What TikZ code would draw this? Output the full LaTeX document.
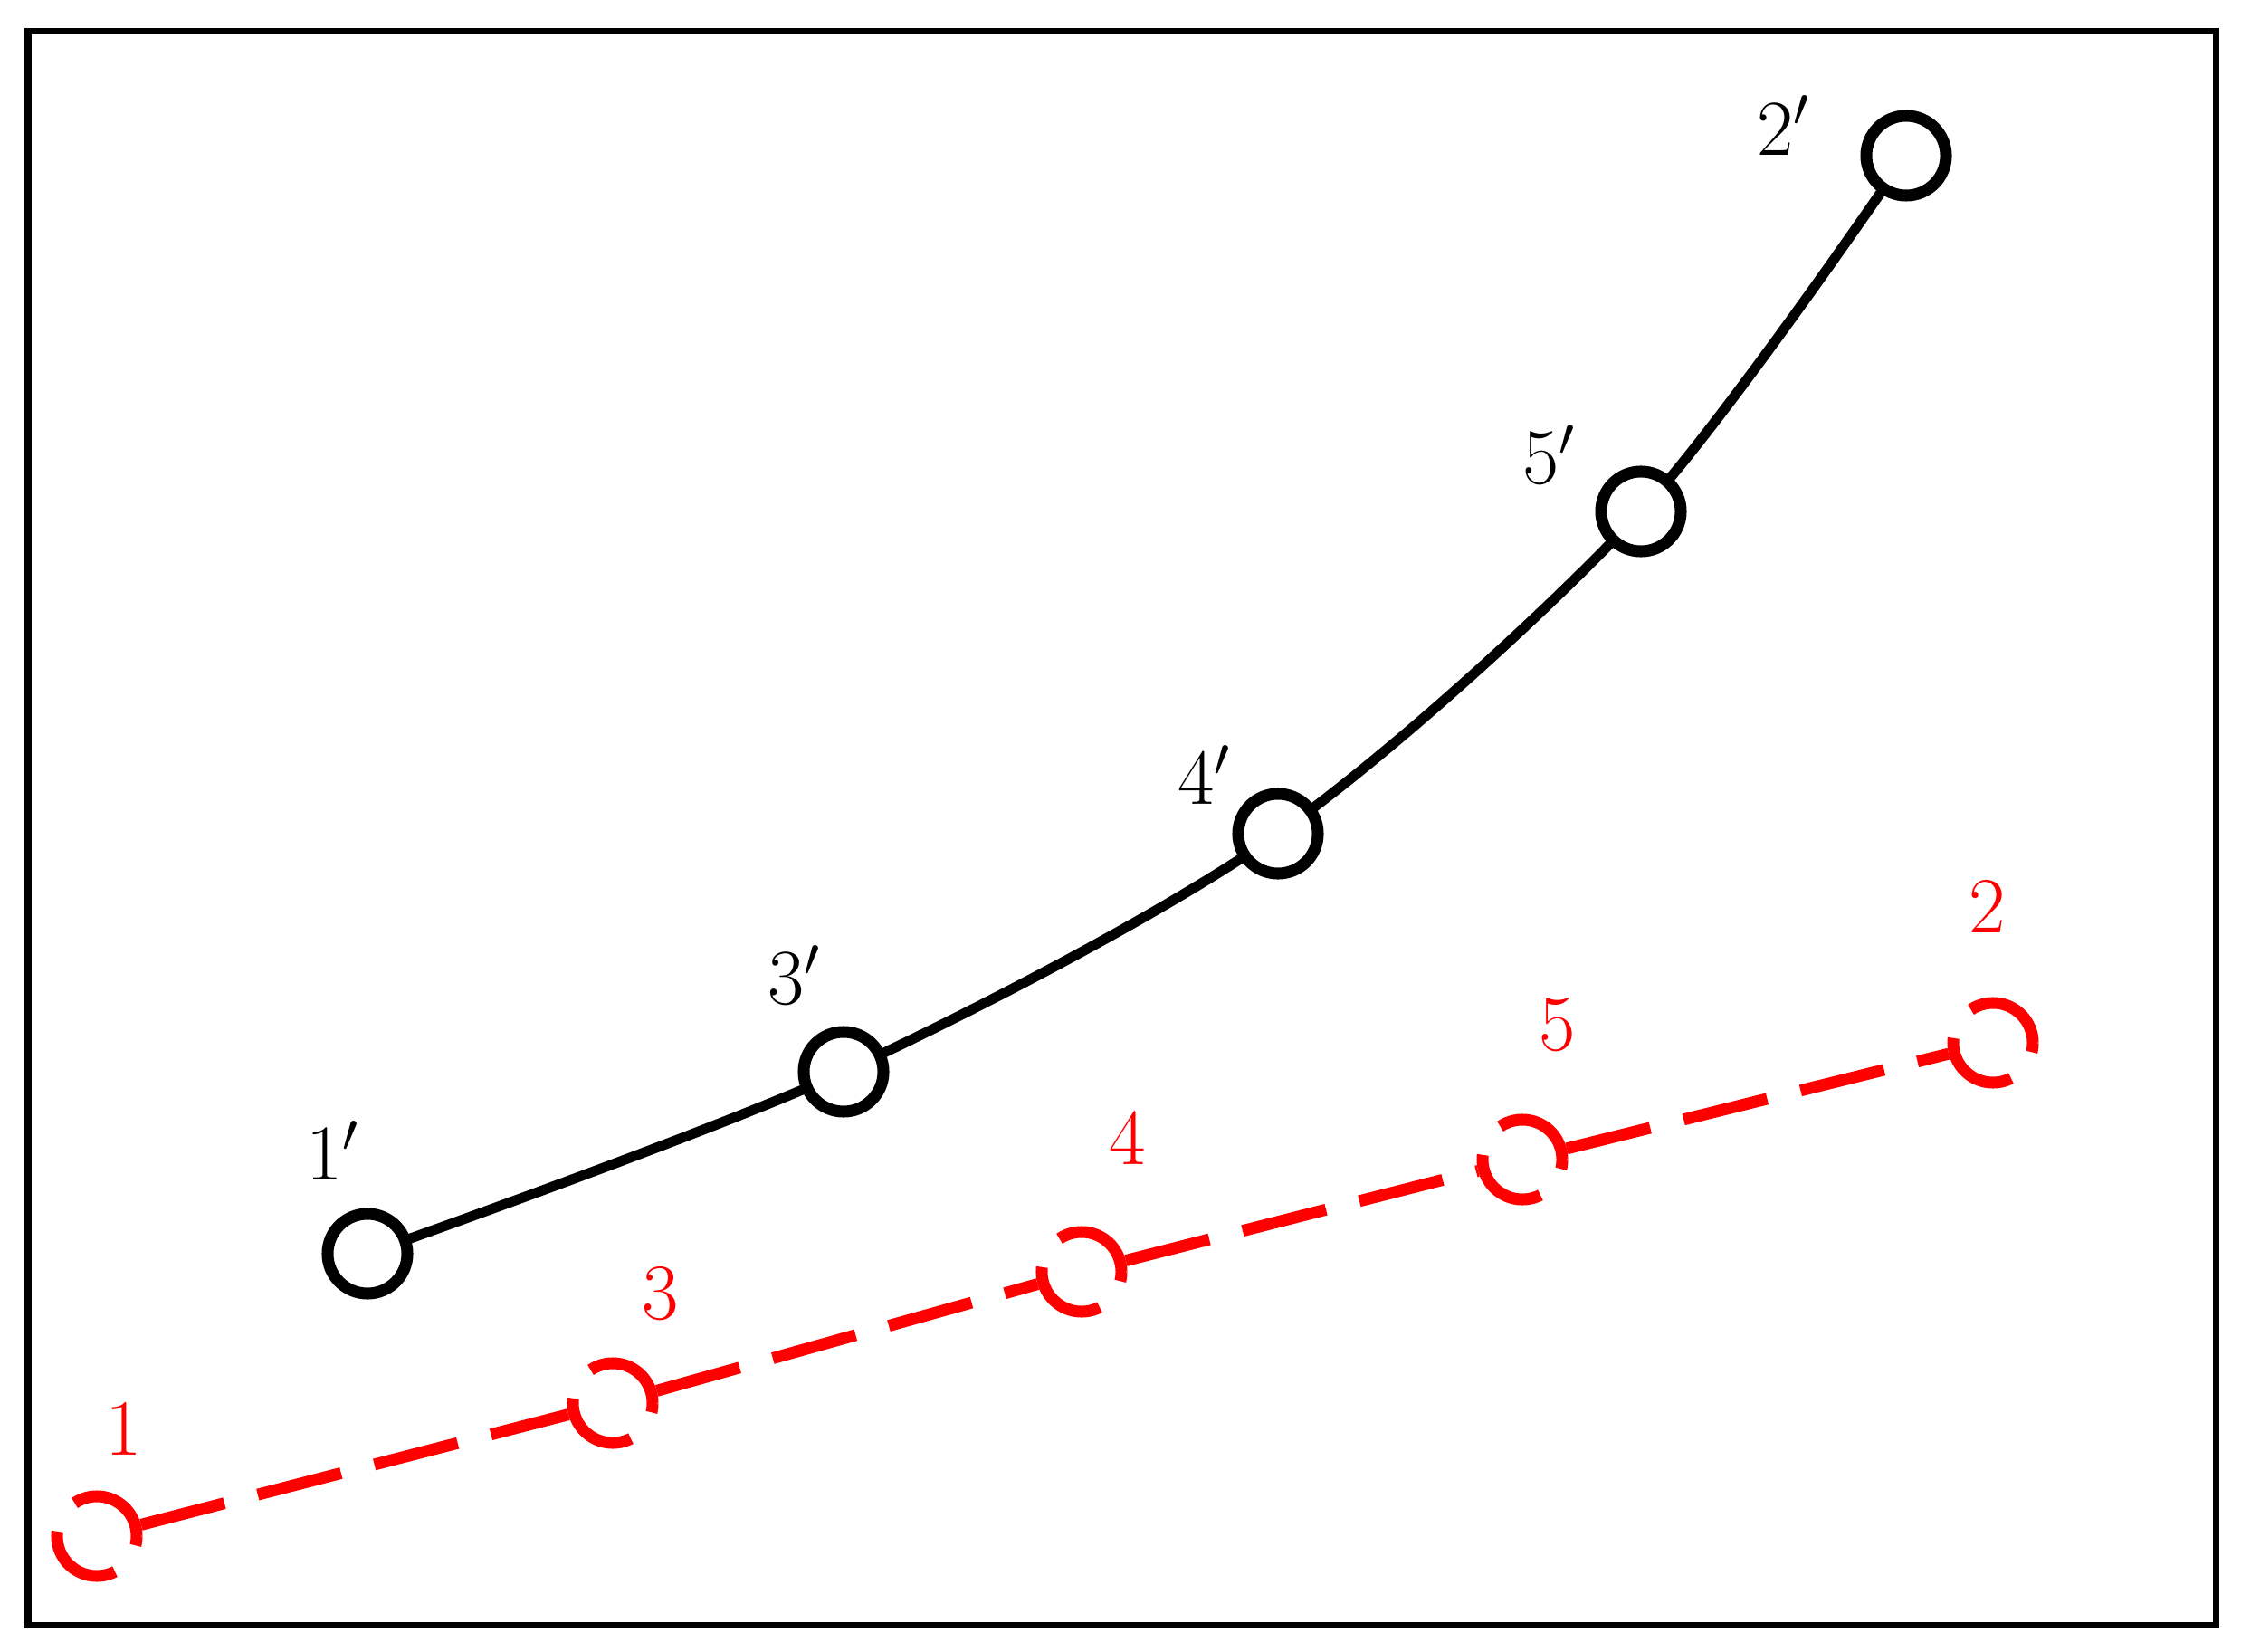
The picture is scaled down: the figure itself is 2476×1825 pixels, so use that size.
\documentclass[tikz,border=0pt]{standalone}
\usetikzlibrary{backgrounds}
\begin{document}
\begin{tikzpicture}[x=0.01cm,y=-0.01cm,
  blk/.style={circle,draw=black,line width=0.13cm,fill=white,minimum size=0.88cm,inner sep=0pt},
  rd/.style={circle,draw=red,line width=0.13cm,minimum size=0.88cm,inner sep=0pt,dash pattern=on 0.95cm off 0.38cm},
  lbl/.style={font=\fontsize{25}{30}\selectfont,inner sep=0pt},
  rlbl/.style={lbl,text=red},
  curve/.style={line width=0.11cm,black},
  rline/.style={line width=0.13cm,red,dash pattern=on 0.95cm off 0.38cm}]
\useasboundingbox (0,0) rectangle (2476,1825);
\draw[line width=0.07cm] (31,35) rectangle (2448,1795);
% black nodes
\node[blk] (b1) at (406,1385) {};
\node[blk] (b3) at (932,1184) {};
\node[blk] (b4) at (1412,921) {};
\node[blk] (b5) at (1813,565) {};
\node[blk] (b2) at (2106,172) {};
\begin{pgfonlayer}{background}
\draw[curve] plot[smooth,tension=0.5] coordinates {(b1.center) (b3.center) (b4.center) (b5.center) (b2.center)};
\end{pgfonlayer}
\node[lbl] (l1) at (368,1271) {$1'$};
\node[lbl] (l3) at (878,1077) {$3'$};
\node[lbl] (l4) at (1331,856) {$4'$};
\node[lbl] (l5) at (1712,502) {$5'$};
\node[lbl] (l2) at (1971,139) {$2'$};
% red nodes
\node[rd] (r1) at (107,1697) {};
\node[rd] (r3) at (677,1550) {};
\node[rd] (r4) at (1195,1405) {};
\node[rd] (r5) at (1682,1281) {};
\node[rd] (r2) at (2202,1152) {};
\draw[rline] (r1) -- (r3);
\draw[rline] (r3) -- (r4);
\draw[rline] (r4) -- (r5);
\draw[rline] (r5) -- (r2);
\node[rlbl] (m1) at (137,1578) {1};
\node[rlbl] (m3) at (730,1429) {3};
\node[rlbl] (m4) at (1246,1257) {4};
\node[rlbl] (m5) at (1721,1132) {5};
\node[rlbl] (m2) at (2196,1001) {2};
\end{tikzpicture}
\end{document}
